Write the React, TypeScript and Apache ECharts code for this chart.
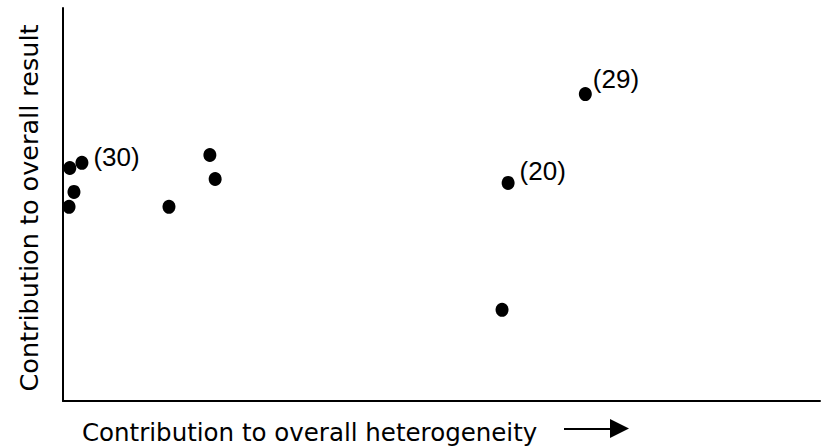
import React, { useEffect, useRef } from "react";
import * as echarts from "echarts";

// Studies: contribution to heterogeneity (x) vs contribution to overall result (y), arbitrary units 0-100
const heterogeneity = [0.9, 2.5, 1.45, 0.8, 14.0, 19.4, 20.1, 58.8, 58.0, 69.0];
const overallResult = [59.3, 60.6, 53.2, 49.4, 49.4, 62.6, 56.5, 55.5, 23.2, 78.1];
const studyLabels = ["", "(30)", "", "", "", "", "", "(20)", "", "(29)"];
const labelOffsets: [number, number][] = [
  [0, 0], [1, -6], [0, 0], [0, 0], [0, 0], [0, 0], [0, 0], [1, -12], [0, 0], [-3, -15],
];

const xTitle = "Contribution to overall heterogeneity";
const yTitle = "Contribution to overall result";

export default function App() {
  const ref = useRef<HTMLDivElement>(null);
  useEffect(() => {
    if (!ref.current) return;
    const chart = echarts.init(ref.current, null, { renderer: "svg" });
    const data = heterogeneity.map((x, i) => ({
      value: [x, overallResult[i]],
      label: {
        show: studyLabels[i] !== "",
        formatter: studyLabels[i],
        position: "right",
        distance: 4,
        offset: labelOffsets[i],
      },
    }));
    chart.setOption({
      animation: false,
      backgroundColor: "#ffffff",
      grid: { left: 63, top: 8, right: 1, bottom: 47 },
      xAxis: {
        type: "value",
        min: 0,
        max: 100,
        axisLine: { show: true, onZero: false, lineStyle: { color: "#000", width: 2 } },
        axisTick: { show: false },
        axisLabel: { show: false },
        splitLine: { show: false },
      },
      yAxis: {
        type: "value",
        min: 0,
        max: 100,
        axisLine: { show: true, onZero: false, lineStyle: { color: "#000", width: 2 } },
        axisTick: { show: false },
        axisLabel: { show: false },
        splitLine: { show: false },
      },
      series: [
        {
          type: "scatter",
          symbol: "circle",
          symbolSize: [13, 14],
          itemStyle: { color: "#000", opacity: 1 },
          label: {
            color: "#000",
            opacity: 1,
            fontFamily: "Liberation Sans",
            fontSize: 26,
          },
          data,
        },
      ],
      graphic: [
        {
          type: "text",
          x: 82,
          y: 432,
          style: {
            text: xTitle,
            fontFamily: "DejaVu Sans",
            fontSize: 24.5,
            fill: "#000",
            align: "left",
            verticalAlign: "middle",
          },
        },
        {
          type: "text",
          x: 29,
          y: 208,
          rotation: Math.PI / 2,
          style: {
            text: yTitle,
            fontFamily: "DejaVu Sans",
            fontSize: 25.5,
            fill: "#000",
            align: "center",
            verticalAlign: "middle",
          },
        },
        {
          type: "line",
          shape: { x1: 564, y1: 429, x2: 613, y2: 429 },
          style: { stroke: "#000", lineWidth: 2 },
        },
        {
          type: "polygon",
          shape: { points: [[610, 419], [629, 428.5], [610, 438]] },
          style: { fill: "#000" },
        },
      ],
    });
    return () => chart.dispose();
  }, []);
  return (
    <div
      ref={ref}
      style={{ position: "fixed", left: 0, top: 0, width: 821, height: 448, background: "#fff" }}
    />
  );
}
